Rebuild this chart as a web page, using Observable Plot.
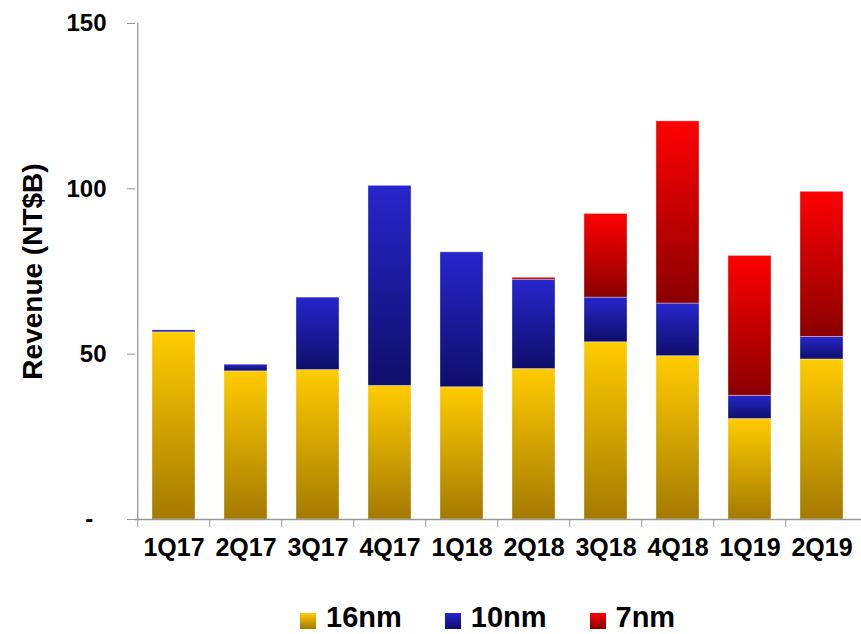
<!DOCTYPE html>
<html>
<head>
<meta charset="utf-8">
<script src="https://cdn.jsdelivr.net/npm/d3@7"></script>
<script src="https://cdn.jsdelivr.net/npm/@observablehq/plot@0.6"></script>
<style>
  body { margin: 0; background: #fff; font-family: "Liberation Sans", Arial, sans-serif; overflow: hidden; }
  #legend { display: flex; align-items: center; margin-left: 300px; margin-top: 28px; height: 29px;
            font-size: 29px; line-height: 29px; font-weight: bold; color: #000; }
  #legend .item { display: flex; align-items: center; margin-right: 43px; }
  #legend .sw { width: 16px; height: 16px; margin-right: 10px; position: relative; top: 3px; }
</style>
</head>
<body>
<div id="chart"></div>
<div id="legend"></div>
<script>
const quarters = ["1Q17","2Q17","3Q17","4Q17","1Q18","2Q18","3Q18","4Q18","1Q19","2Q19"];
const nodes = ["16nm","10nm","7nm"];
const rev16nm = [56.6, 44.8, 45.2, 40.4, 40.0, 45.5, 53.6, 49.4, 30.4, 48.4];
const rev10nm = [0.6, 2.0, 21.9, 60.5, 40.8, 27.0, 13.5, 15.9, 7.0, 6.8];
const rev7nm  = [0, 0, 0, 0, 0, 0.6, 25.3, 55.1, 42.3, 43.9];
const yTicks = [0, 50, 100, 150];
const gradTop = ["#ffcc00", "#2626cc", "#ff0000"];
const gradBottom = ["#a47a00", "#0e0e6a", "#8a0000"];
const yLabel = "Revenue (NT$B)";

const series = [rev16nm, rev10nm, rev7nm];
const data = quarters.flatMap((q, i) => nodes.map((n, k) => ({quarter: q, node: n, value: series[k][i]})))
  .filter(d => d.value > 0);

const W = 861, H = 575, mL = 135, mR = 0, mT = 23, mB = 56;
const padIn = 0.4, padOut = 0.2;
const step = (W - mL - mR) / (quarters.length - padIn + 2 * padOut);
const gradIds = nodes.map((n, k) => "grad" + k);
const font = "'Liberation Sans', Arial, sans-serif";

const svg = Plot.plot({
  width: W, height: H,
  marginLeft: mL, marginRight: mR, marginTop: mT, marginBottom: mB,
  style: {fontFamily: font, fontWeight: "bold", color: "#000", background: "#fff"},
  x: {domain: quarters, paddingInner: padIn, paddingOuter: padOut, label: null},
  y: {domain: [0, 150], label: yLabel},
  color: {domain: nodes, range: gradIds.map(id => `url(#${id})`)},
  marks: [
    Plot.barY(data, Plot.stackY({x: "quarter", y: "value", fill: "node", order: nodes,
      stroke: "#fff", strokeOpacity: 0.35, strokeWidth: 1})),
    Plot.ruleY([0], {stroke: "#999", strokeWidth: 1.3}),
    Plot.ruleX(quarters.slice(0, 1), {x: d => d, dx: -step / 2, y1: 0, y2: 150, stroke: "#999", strokeWidth: 1.3}),
    Plot.axisY({ticks: yTicks, tickSize: 8, tickPadding: 21, stroke: "#999", fontSize: 24, fontWeight: "bold", fill: "#000",
      tickFormat: d => d === 0 ? "-\u00a0\u00a0" : String(d),
      label: null}),
    Plot.axisY({ticks: [], tickSize: 0, fontSize: 28, fontWeight: "bold", fill: "#000",
      label: yLabel, labelAnchor: "center", labelArrow: "none", labelOffset: 113}),
    Plot.axisX({tickSize: 8, dx: -step / 2, stroke: "#999", tickFormat: () => "", label: null}),
    Plot.axisX({tickSize: 0, tickPadding: 19, fontSize: 25, fontWeight: "bold", fill: "#000", label: null})
  ]
});

const defs = d3.select(svg).insert("defs", ":first-child");
nodes.forEach((n, k) => {
  const g = defs.append("linearGradient").attr("id", gradIds[k]).attr("x1", 0).attr("y1", 0).attr("x2", 0).attr("y2", 1);
  g.append("stop").attr("offset", "0%").attr("stop-color", gradTop[k]);
  g.append("stop").attr("offset", "100%").attr("stop-color", gradBottom[k]);
});
document.getElementById("chart").appendChild(svg);

const legend = d3.select("#legend");
nodes.forEach((n, k) => {
  const it = legend.append("div").attr("class", "item");
  it.append("div").attr("class", "sw").style("background", `linear-gradient(${gradTop[k]}, ${gradBottom[k]})`);
  it.append("span").text(n);
});
</script>
</body>
</html>
